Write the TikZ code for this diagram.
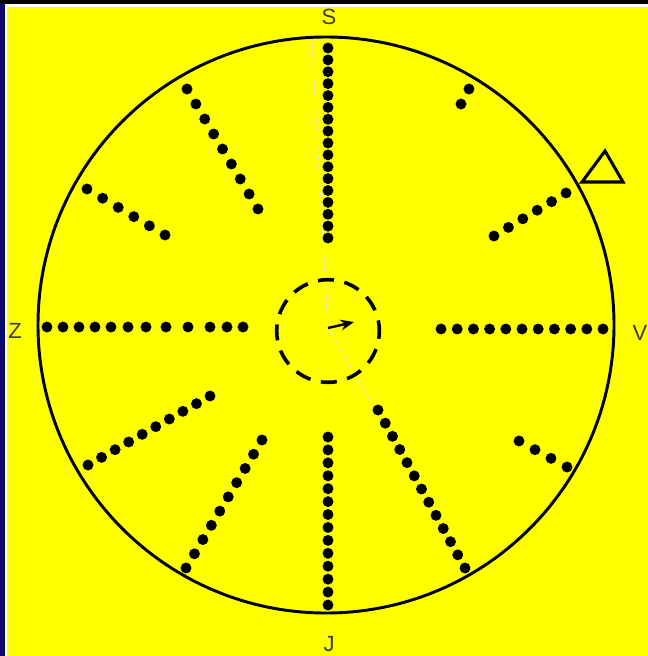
\documentclass[tikz,border=0pt]{standalone}
\usepackage{fontspec}
\setmainfont{Liberation Sans}
\usetikzlibrary{calc,arrows.meta}
\definecolor{bgyellow}{RGB}{255,255,0}
\definecolor{navy}{RGB}{10,10,110}
\definecolor{labelc}{RGB}{60,60,50}
\definecolor{palec}{RGB}{235,235,200}
\newcommand\dotrow[3]{\foreach \i in {0,...,#3} \fill ($#1!\i/#3!#2$) circle[radius=4.1pt];}
\tikzset{
  rimline/.style={line width=2.2pt},
  lbl/.style={font=\fontsize{16.5}{17}\selectfont, text=labelc, inner sep=0pt},
}
\begin{document}
\begin{tikzpicture}[x=0.75pt,y=-0.75pt]
\useasboundingbox (0,0) rectangle (648,656);
\fill[bgyellow] (0,0) rectangle (648,656);
\fill[navy] (0,0) rectangle (4.5,656);
\fill[black] (0,0) rectangle (648,4.3);
\fill[white] (4.5,4.3) rectangle (648,6.7);
\fill[white] (4.5,4.3) rectangle (6.9,656);

% outer circle
\coordinate (C) at (326,325);
\draw[rimline] (C) circle[radius=216pt];

% pale dashed axis
\coordinate (top) at (312,43);
\coordinate (ctr) at (328,328);
\coordinate (low) at (376,412);
\draw[palec, line width=0.9pt, dash pattern=on 4pt off 3pt] (top) -- (ctr) -- (low);

% inner dashed circle
\draw[line width=2.7pt, dash pattern=on 12pt off 8pt, dash phase=4pt] (328,331) circle[radius=38.5pt];

% arrow
\coordinate (tip) at (354,322);
\draw[line width=1.8pt, -{Stealth[length=10pt,width=8pt]}] (ctr) -- (tip);

% dot rows
\dotrow{(328,48)}{(328,238)}{16}
\dotrow{(328,437)}{(328,605)}{13}
\foreach \x in {47,63,79,95,111,128,146,166,188,210,227,243} \fill (\x,327) circle[radius=4.1pt];
\dotrow{(441,329)}{(603,329)}{10}
\dotrow{(187,89)}{(258,209)}{8}
\dotrow{(87,189)}{(165,235)}{5}
\fill (469,89) circle[radius=4.1pt];
\fill (461,104) circle[radius=4.1pt];
\dotrow{(494,236)}{(566,193)}{5}
\dotrow{(519,441)}{(567,467)}{3}
\dotrow{(378,410)}{(465,568)}{12}
\dotrow{(262,440)}{(186,568)}{9}
\dotrow{(210,396)}{(88,465)}{9}

% triangle
\draw[line width=2.3pt, line join=miter, fill=bgyellow] (605,151) -- (623,182) -- (582,182) -- cycle;

% labels
\node[lbl] (S) at (329,17) {S};
\node[lbl] (J) at (329,644) {J};
\node[lbl] (Z) at (15,331) {Z};
\node[lbl] (V) at (640,333) {V};
\end{tikzpicture}
\end{document}
